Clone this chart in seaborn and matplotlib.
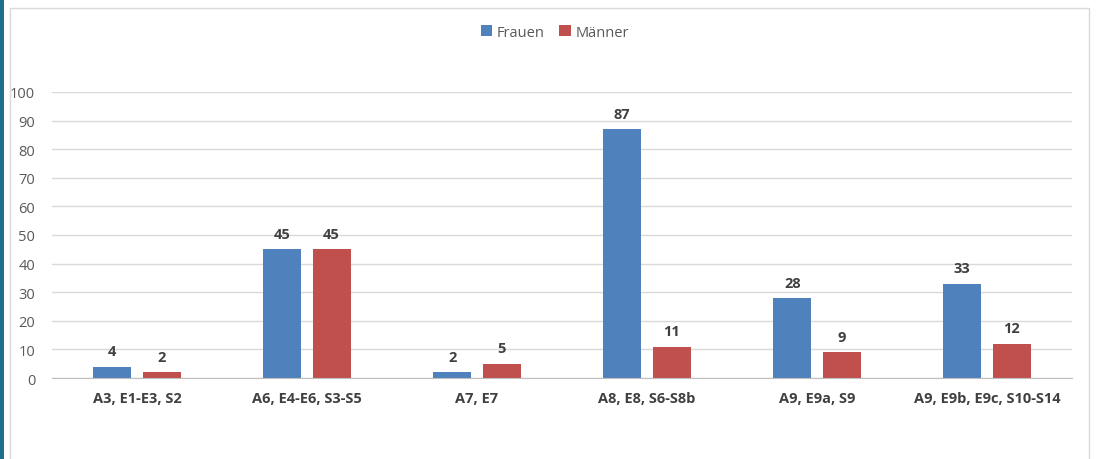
import seaborn as sns
import pandas as pd
import matplotlib.pyplot as plt
from matplotlib.patches import Rectangle

# Daten
kategorien = ["A3, E1-E3, S2", "A6, E4-E6, S3-S5", "A7, E7",
              "A8, E8, S6-S8b", "A9, E9a, S9", "A9, E9b, E9c, S10-S14"]
frauen = [4, 45, 2, 87, 28, 33]
maenner = [2, 45, 5, 11, 9, 12]

df = pd.DataFrame({
    "Kategorie": kategorien * 2,
    "Wert": frauen + maenner,
    "Geschlecht": ["Frauen"] * len(frauen) + ["Männer"] * len(maenner),
})

sns.set_style("white")
plt.rcParams['font.family'] = ['Open Sans', 'DejaVu Sans']

fig = plt.figure(figsize=(10.96, 4.6), dpi=100)
ax = fig.add_axes([0.0474, 0.176, 0.9306, 0.622])

sns.barplot(data=df, x="Kategorie", y="Wert", hue="Geschlecht",
            palette=["#4F81BD", "#C0504D"], width=0.58, gap=0.23,
            saturation=1, ax=ax, legend=True, linewidth=0)

ax.set_ylim(0, 100)
ax.set_xlim(-0.5, len(kategorien) - 0.5)
ax.set_yticks(range(0, 101, 10))
ax.yaxis.grid(True, color="#D9D9D9", linewidth=1)
ax.set_axisbelow(True)
for s in ["top", "right", "left"]:
    ax.spines[s].set_visible(False)
ax.spines["bottom"].set_color("#BFBFBF")
ax.set_xlabel("")
ax.set_ylabel("")
ax.tick_params(axis="y", length=0, labelsize=10.5, labelcolor="#595959", pad=12)
ax.tick_params(axis="x", length=0, labelsize=10.5, labelcolor="#404040", pad=9)
for t in ax.get_xticklabels():
    t.set_fontweight("bold")
ax.set_xticks([i + 0.5 for i in range(-1, len(kategorien))], minor=True)
ax.tick_params(axis="x", which="minor", length=5, color="#BFBFBF", direction="out")

for c in ax.containers:
    ax.bar_label(c, padding=6, fontsize=10.5, fontweight="bold", color="#404040")

leg = ax.legend(loc="upper center", bbox_to_anchor=(0.493, 1.28), ncol=2,
                frameon=False, fontsize=10.5, handlelength=0.8, handleheight=0.8,
                columnspacing=1.0, handletextpad=0.3)
for t in leg.get_texts():
    t.set_color("#595959")

# Rahmen
fig.patches.append(Rectangle((0.009, -0.01), 0.985, 0.99, transform=fig.transFigure,
                             fill=False, edgecolor="#D9D9D9", linewidth=1))
fig.patches.append(Rectangle((0, 0), 0.004, 1, transform=fig.transFigure,
                             facecolor="#1F6E8C", edgecolor="none"))

fig.savefig("out.png", dpi=100)
